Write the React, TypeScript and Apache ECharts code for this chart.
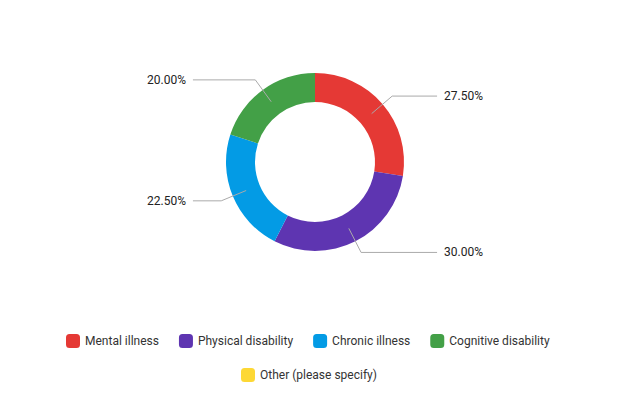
import React, { useEffect, useRef } from "react";
import * as echarts from "echarts";

const categories = ["Mental illness", "Physical disability", "Chronic illness", "Cognitive disability", "Other (please specify)"];
const values = [27.5, 30, 22.5, 20, 0];
const colors = ["#e53935", "#5e35b1", "#039be5", "#43a047", "#fdd835"];

export default function App() {
  const ref = useRef<HTMLDivElement>(null);
  useEffect(() => {
    document.body.style.margin = "0";
    if (!ref.current) return;
    const chart = echarts.init(ref.current, undefined, { renderer: "svg" });
    const total = values.reduce((a, b) => a + b, 0);
    const mainData = categories.map((name, i) => ({ name, value: values[i], itemStyle: { color: colors[i] } }));
    const labelData = categories
      .map((name, i) => ({ name, value: values[i] }))
      .filter((d) => d.value > 0);
    const font = "Roboto";
    chart.setOption({
      animation: false,
      color: colors,
      legend: [
        {
          data: categories.slice(0, 4),
          left: 61,
          top: 329,
          itemWidth: 14,
          itemHeight: 14,
          itemGap: 20,
          icon: "roundRect",
          textStyle: { fontSize: 12, color: "#333", fontFamily: font },
          selectedMode: false,
        },
        {
          data: categories.slice(4),
          left: 236,
          top: 363,
          itemWidth: 14,
          itemHeight: 14,
          icon: "roundRect",
          textStyle: { fontSize: 12, color: "#333", fontFamily: font },
          selectedMode: false,
        },
      ],
      series: [
        {
          type: "pie",
          center: [315, 162],
          radius: [60, 89],
          startAngle: 90,
          clockwise: true,
          silent: true,
          z: 2,
          label: { show: false },
          labelLine: { show: false },
          data: mainData,
        },
        {
          type: "pie",
          center: [315, 162],
          radius: [0, 74.5],
          startAngle: 90,
          clockwise: true,
          silent: true,
          z: 3,
          itemStyle: { color: "rgba(0,0,0,0)" },
          label: {
            show: true,
            position: "outer",
            alignTo: "edge",
            edgeDistance: 147,
            distanceToLabelLine: 7,
            fontSize: 12,
            color: "#222",
            fontFamily: font,
            formatter: (p: any) => ((p.value / total) * 100).toFixed(2) + "%",
          },
          labelLine: {
            show: true,
            length: 27,
            length2: 10,
            lineStyle: { color: "#aaa", width: 1 },
          },
          data: labelData,
        },
      ],
    });
    return () => chart.dispose();
  }, []);
  return <div ref={ref} style={{ width: 630, height: 393 }} />;
}
